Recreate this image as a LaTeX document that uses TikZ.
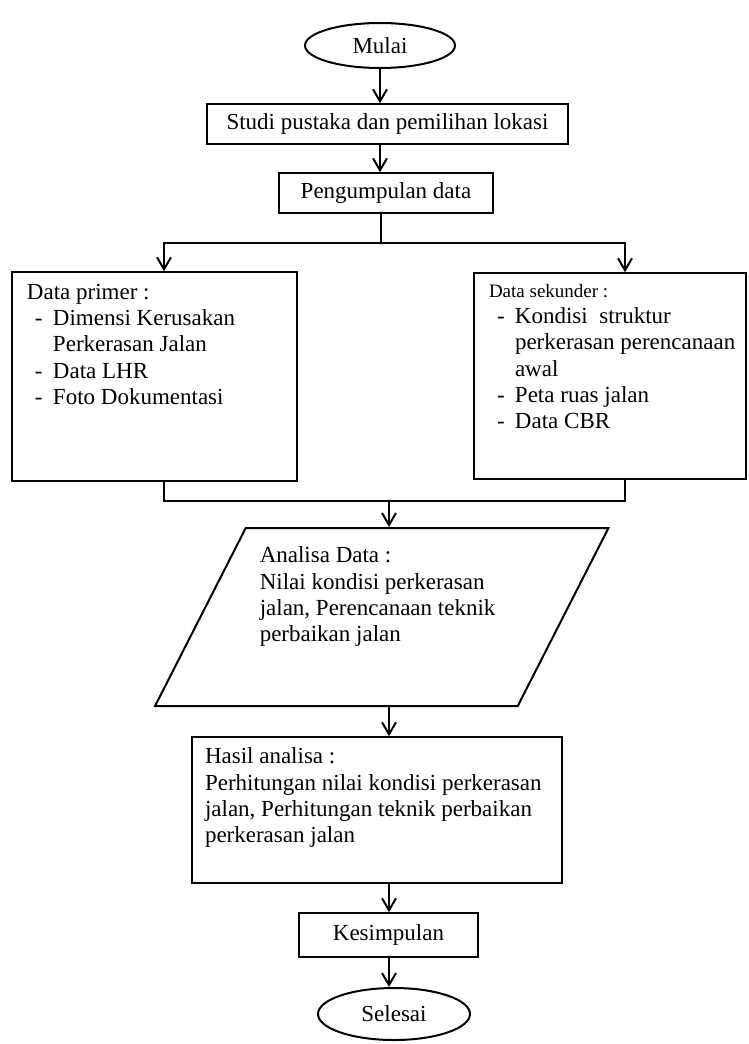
\documentclass[tikz,border=0pt]{standalone}
\usepackage{fontspec}
\setmainfont{Liberation Serif}
\usetikzlibrary{shapes.geometric,arrows.meta}

\newcommand{\butir}[1]{\makebox[26pt][l]{\hspace*{8pt}-}\mbox{#1}}
\newcommand{\sambung}[1]{\hspace*{26pt}\mbox{#1}}
\newcommand{\isi}[3]{\parbox[c][#2][t]{#1}{\raggedright #3}}

\begin{document}
\begin{tikzpicture}[x=1pt, y=-1pt,
    every node/.style = {draw, line width=1.5pt, inner sep=0pt,
      font=\fontsize{23}{26.3}\selectfont},
    kotak/.style = {shape=rectangle, align=center},
    bulat/.style = {shape=ellipse, line width=2pt},
    miring/.style = {shape=trapezium, trapezium left angle=63,
      trapezium right angle=117, line width=2pt},
    panah/.style = {-{Straight Barb[length=12pt,width=14pt]}, line width=2pt}]
    \useasboundingbox (0,0) rectangle (748,1044);

    \node[bulat, minimum width=150pt, minimum height=45pt] (mulai) at (380,45.5) {Mulai};
    \node[kotak, minimum width=361pt, minimum height=40pt] (studi) at (387.5,124)
        {Studi pustaka dan pemilihan lokasi};
    \node[kotak, minimum width=214pt, minimum height=40pt] (kumpul) at (386,193)
        {Pengumpulan data};
    \node[kotak, inner xsep=15pt, inner ysep=12pt] (primer) at (154.5,376.5)
        {\isi{255pt}{185pt}{Data primer :\\
          \butir{Dimensi Kerusakan}\\
          \sambung{Perkerasan Jalan}\\
          \butir{Data LHR}\\
          \butir{Foto Dokumentasi}}};
    \node[kotak, inner xsep=15pt, inner ysep=11pt] (sekunder) at (610,376)
        {\isi{242pt}{184pt}{{\fontsize{19}{26.3}\selectfont Data sekunder :}\\
          \butir{Kondisi\ \ struktur}\\
          \sambung{perkerasan perencanaan}\\
          \sambung{awal}\\
          \butir{Peta ruas jalan}\\
          \butir{Data CBR}}};
    \node[miring, inner xsep=14pt, inner ysep=19pt] (analisa) at (381.75,617)
        {\isi{244pt}{140pt}{Analisa Data :\\
          Nilai kondisi perkerasan\\
          jalan, Perencanaan teknik\\
          perbaikan jalan}};
    \node[kotak, inner xsep=13pt, inner ysep=11pt] (hasil) at (377,810)
        {\isi{344pt}{124pt}{Hasil analisa :\\
          Perhitungan nilai kondisi perkerasan\\
          jalan, Perhitungan teknik perbaikan\\
          perkerasan jalan}};
    \node[kotak, minimum width=179pt, minimum height=44pt] (simpul) at (388.5,935)
        {Kesimpulan};
    \node[bulat, minimum width=152pt, minimum height=52pt] (selesai) at (394,1014) {Selesai};

    \coordinate (cabang) at (381,243);
    \coordinate (kiri) at (164,243);
    \coordinate (kanan) at (625,243);
    \coordinate (gabung) at (389,501);

    \draw[panah] (mulai.south) -- (studi.north -| mulai);
    \draw[panah] (studi.south -| mulai) -- (kumpul.north -| mulai);
    \draw[line width=2pt] (kumpul.south -| cabang) -- (cabang);
    \draw[panah] (cabang) -| (primer.north -| kiri);
    \draw[panah] (cabang) -| (sekunder.north -| kanan);
    \draw[line width=2pt] (primer.south -| kiri) |- (gabung) -| (sekunder.south -| kanan);
    \draw[panah] (gabung) -- (analisa.north -| gabung);
    \draw[panah] (analisa.south -| gabung) -- (hasil.north -| gabung);
    \draw[panah] (hasil.south -| gabung) -- (simpul.north -| gabung);
    \draw[panah] (simpul.south -| gabung) -- (selesai.north -| gabung);
\end{tikzpicture}
\end{document}
